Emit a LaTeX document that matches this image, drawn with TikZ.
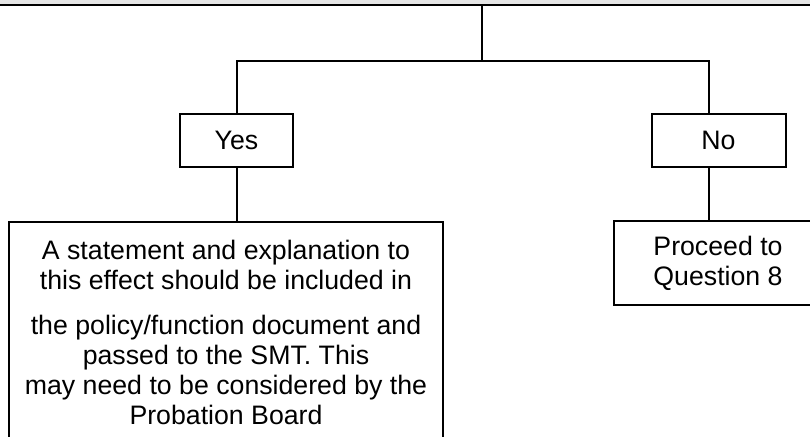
\documentclass[tikz,border=0pt]{standalone}
\usepackage{fontspec}
\setmainfont{Liberation Sans}
\begin{document}
\begin{tikzpicture}[x=1pt, y=-1pt, line width=2pt,
    box/.style={draw, font=\fontsize{26.7}{30}\selectfont, align=center, inner sep=0pt}]
    \useasboundingbox (0,0) rectangle (810,436);
    \clip (0,0) rectangle (810,436);
    \node[draw, fill=gray!20, minimum width=1100pt, minimum height=60pt, anchor=south] (question) at (482,6.2) {};
    \node[box, minimum width=113pt, minimum height=53pt] (yes) at (236.5,140.5) {Yes};
    \node[box, minimum width=134pt, minimum height=53pt] (no) at (718.5,140.5) {No};
    \node[box, minimum width=208pt, minimum height=84pt] (proceed) at (718,263) {Proceed to\\Question 8};
    \node[box, inner ysep=18pt, anchor=north] (effect) at (226,221)
        {\parbox[c][240pt][t]{434pt}{\centering
         A statement and explanation to\\this effect should be included in\\[15pt]
         the policy/function document and\\passed to the SMT. This\\
         may need to be considered by the\\Probation Board}};
    \coordinate (split) at (482,60.7);
    \coordinate (nodrop) at (709,60.7);
    \draw (question.south) -- (split);
    \draw (yes.north) |- (split) -- (nodrop) -- (nodrop |- no.north);
    \draw (yes.south) -- (yes.south |- effect.north);
    \draw (no.south -| nodrop) -- (nodrop |- proceed.north);
\end{tikzpicture}
\end{document}
